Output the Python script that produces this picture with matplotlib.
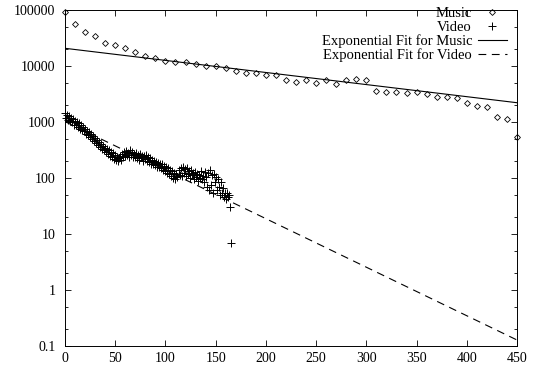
import matplotlib
matplotlib.use("Agg")
import matplotlib.pyplot as plt

# ---- data ----
music_x = list(range(0, 451, 10))
music_y = [93300, 56200, 41000, 34300, 26100, 23700, 20700, 17600, 15100, 13700,
           12300, 11800, 11600, 10700, 9880, 9880, 9100, 8140, 7590, 7500,
           7000, 6820, 5620, 5250, 5560, 4910, 5560, 4770, 5620, 5860,
           5700, 3620, 3480, 3390, 3290, 3480, 3200, 2830, 2760, 2720,
           2160, 1910, 1830, 1210, 1120, 546]

video_x = list(range(0, 166))
video_y = [1450, 1200, 1350, 1100, 1300, 1050, 1200, 980, 1150, 900,
           1050, 880, 1000, 820, 950, 760, 880, 720, 820, 680,
           760, 620, 700, 580, 660, 540, 600, 500, 560, 460,
           520, 420, 480, 390, 440, 360, 410, 330, 380, 310,
           350, 290, 330, 270, 310, 250, 290, 240, 280, 220,
           260, 210, 240, 200, 230, 250, 210, 270, 240, 290,
           250, 300, 260, 280, 240, 310, 260, 290, 235, 270,
           240, 280, 230, 260, 210, 270, 240, 250, 205, 245,
           220, 255, 200, 240, 190, 225, 180, 210, 175, 200,
           170, 195, 160, 185, 155, 175, 150, 180, 140, 165,
           135, 160, 125, 150, 120, 140, 110, 135, 100, 125,
           95, 120, 105, 140, 115, 150, 110, 160, 125, 145,
           110, 150, 120, 135, 100, 140, 115, 125, 95, 130,
           105, 120, 90, 115, 100, 135, 95, 110, 85, 130,
           105, 70, 125, 60, 140, 75, 115, 55, 120, 85,
           105, 60, 95, 70, 50, 85, 55, 65, 45, 55,
           42, 55, 45, 50, 30, 7]

fit_x = [0, 450]
music_fit_y = [20700, 2210]
video_fit_y = [1016, 0.128]

labels = ["Music", "Video", "Exponential Fit for Music", "Exponential Fit for Video"]
x_ticks = list(range(0, 451, 50))
y_ticks = [0.1, 1, 10, 100, 1000, 10000, 100000]
y_tick_labels = ["0.1", "1", "10", "100", "1000", "10000", "100000"]

plt.rcParams['font.family'] = ['Liberation Serif', 'DejaVu Serif']
plt.rcParams['font.size'] = 10

fig = plt.figure(figsize=(5.38, 3.66), dpi=100)
ax = fig.add_axes([65/538, 1 - 346/366, (517 - 65)/538, (346 - 10)/366])

ax.plot(music_x, music_y, linestyle='none', marker='D', markersize=3.0,
        mfc='none', mec='black', mew=0.6, clip_on=False, label=labels[0])
ax.plot(video_x, video_y, linestyle='none', marker='+', markersize=5.5,
        color='black', mew=0.7, clip_on=False, label=labels[1])
ax.plot(fit_x, music_fit_y, color='black', lw=0.8, label=labels[2])
ax.plot(fit_x, video_fit_y, color='black', lw=0.8, linestyle=(0, (7, 5)), label=labels[3])

ax.set_yscale('log')
ax.set_xlim(0, 450)
ax.set_ylim(0.1, 100000)
ax.set_xticks(x_ticks)
ax.set_xticklabels([str(t) for t in x_ticks])
ax.set_yticks(y_ticks)
ax.set_yticklabels(y_tick_labels)
ax.yaxis.set_minor_locator(matplotlib.ticker.LogLocator(base=10, subs=[2, 5]))
ax.yaxis.set_minor_formatter(matplotlib.ticker.NullFormatter())

ax.tick_params(which='both', direction='in', top=True, right=True, width=0.6)
ax.tick_params(which='major', length=4.5)
ax.tick_params(which='minor', length=2.5)
ax.tick_params(axis='y', pad=7)
ax.tick_params(axis='x', pad=4)
for s in ax.spines.values():
    s.set_linewidth(0.7)

leg = ax.legend(loc='upper right', bbox_to_anchor=(1 - 10/452, 1.0 + 3/336),
                frameon=False, markerfirst=False, handlelength=2.0,
                handletextpad=0.4, labelspacing=0.02, borderpad=0,
                borderaxespad=0, fontsize=10.5)

fig.savefig("out.png", dpi=100)
